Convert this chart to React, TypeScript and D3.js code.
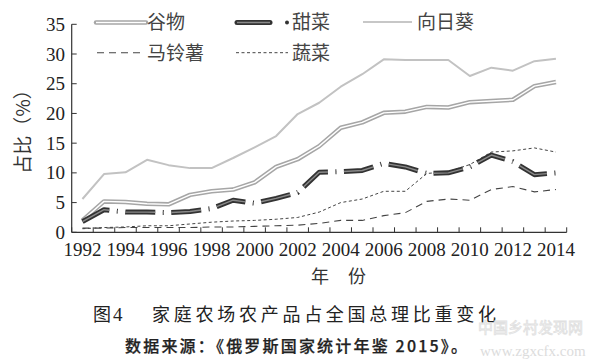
import React from "react";
import * as d3 from "d3";

const years = [1992, 1993, 1994, 1995, 1996, 1997, 1998, 1999, 2000, 2001, 2002, 2003, 2004, 2005, 2006, 2007, 2008, 2009, 2010, 2011, 2012, 2013, 2014];
const grain = [2.0, 5.2, 5.1, 4.8, 4.7, 6.3, 6.9, 7.2, 8.4, 11.0, 12.3, 14.5, 17.6, 18.5, 20.1, 20.3, 21.1, 21.0, 21.9, 22.1, 22.3, 24.6, 25.3];
const sunflower = [5.6, 9.8, 10.1, 12.2, 11.3, 10.8, 10.8, 12.5, 14.3, 16.2, 19.9, 21.8, 24.5, 26.6, 29.1, 29.0, 29.0, 29.0, 26.3, 27.7, 27.2, 28.8, 29.2];
const beet = [1.8, 3.8, 3.4, 3.4, 3.3, 3.5, 4.0, 5.4, 4.9, 5.7, 6.7, 10.1, 10.2, 10.4, 11.6, 11.0, 9.9, 10.0, 11.0, 13.0, 11.9, 9.7, 10.0];
const potato = [0.7, 0.7, 0.8, 0.8, 0.8, 0.8, 0.9, 0.9, 1.0, 1.1, 1.2, 1.5, 2.0, 2.0, 2.8, 3.3, 5.2, 5.6, 5.4, 7.2, 7.7, 6.8, 7.2];
const vegetables = [0.6, 0.8, 0.9, 1.1, 1.1, 1.4, 1.7, 1.9, 2.0, 2.2, 2.5, 3.4, 5.0, 5.6, 6.9, 6.9, 9.9, 10.2, 11.4, 13.5, 13.7, 14.2, 13.5];
const yTicks = [0, 5, 10, 15, 20, 25, 30, 35];
const xLabelYears = [1992, 1994, 1996, 1998, 2000, 2002, 2004, 2006, 2008, 2010, 2012, 2014];

const serif = "Liberation Serif, DejaVu Serif, Times New Roman, serif";
const cjk = "Noto Sans CJK SC, Noto Sans, sans-serif";

export default function App() {
  const W = 591, H = 363;
  const x0 = 71.7, x1 = 566.7, yTop = 24.3, yBot = 232.3;
  const x = d3.scaleBand<number>().domain(years).range([x0, x1]).paddingInner(0).paddingOuter(0);
  const y = d3.scaleLinear().domain([0, 35]).range([yBot, yTop]);
  const cx = (yr: number) => (x(yr) as number) + x.bandwidth() / 2;
  const line = (vals: number[]) =>
    d3.line<number>().x((_, i) => cx(years[i])).y((v) => y(v)).curve(d3.curveLinear)(vals) as string;

  const boundaries = years.map((yr) => x(yr) as number).concat([x1]);

  const beetDash = "30 7.5 1 7.5";

  return (
    <svg width={W} height={H} style={{ position: "absolute", left: 0, top: 0, background: "#fff" }}>
      {/* axes */}
      <line x1={x0} y1={yTop} x2={x0} y2={yBot} stroke="#333" strokeWidth={1.2} />
      <line x1={x0} y1={yBot} x2={x1} y2={yBot} stroke="#333" strokeWidth={1.2} />
      {yTicks.map((t) => (
        <g key={"yt" + t}>
          <line x1={x0} x2={x0 + 5} y1={y(t)} y2={y(t)} stroke="#333" strokeWidth={1} />
          <text x={65} y={y(t) + 6.5} textAnchor="end" style={{ fontFamily: serif }} fontSize={19} fill="#222">
            {t}
          </text>
        </g>
      ))}
      {boundaries.map((b, i) => (
        <line key={"xt" + i} x1={b} x2={b} y1={yBot} y2={yBot - 5} stroke="#333" strokeWidth={1} />
      ))}
      {xLabelYears.map((yr) => (
        <text key={"xl" + yr} x={cx(yr)} y={256} textAnchor="middle" style={{ fontFamily: serif }} fontSize={19} fill="#222">
          {yr}
        </text>
      ))}

      {/* series */}
      <path d={line(vegetables)} fill="none" stroke="#444" strokeWidth={1} strokeDasharray="3 2.5" />
      <path d={line(potato)} fill="none" stroke="#444" strokeWidth={1.1} strokeDasharray="7 5" />
      <path d={line(sunflower)} fill="none" stroke="#c2c2c2" strokeWidth={2} strokeLinejoin="round" />
      <path d={line(grain)} fill="none" stroke="#a6a6a6" strokeWidth={4.5} strokeLinejoin="round" />
      <path d={line(grain)} fill="none" stroke="#fff" strokeWidth={1.4} strokeLinejoin="round" />
      <path d={line(beet)} fill="none" stroke="#333" strokeWidth={5} strokeDasharray={beetDash} strokeLinejoin="round" />
      <path d={line(beet)} fill="none" stroke="#8a8a8a" strokeWidth={1.4} strokeDasharray={beetDash} strokeLinejoin="round" />

      {/* legend */}
      <line x1={96} x2={146} y1={22.5} y2={22.5} stroke="#a6a6a6" strokeWidth={4.5} strokeLinecap="round" />
      <line x1={96} x2={146} y1={22.5} y2={22.5} stroke="#fff" strokeWidth={1.4} />
      <text x={147} y={29} style={{ fontFamily: cjk }} fontSize={19} fill="#444">谷物</text>

      <line x1={237} x2={270} y1={22.5} y2={22.5} stroke="#333" strokeWidth={5} strokeLinecap="round" />
      <line x1={237} x2={270} y1={22.5} y2={22.5} stroke="#8a8a8a" strokeWidth={1.4} />
      <circle cx={287} cy={22.5} r={2} fill="#333" />
      <text x={292} y={29} style={{ fontFamily: cjk }} fontSize={19} fill="#444">甜菜</text>

      <line x1={363} x2={412} y1={22} y2={22} stroke="#b5b5b5" strokeWidth={1.5} />
      <text x={417} y={29} style={{ fontFamily: cjk }} fontSize={19} fill="#444">向日葵</text>

      <line x1={97} x2={143} y1={52.7} y2={52.7} stroke="#444" strokeWidth={1.1} strokeDasharray="7 5" />
      <text x={147} y={59.5} style={{ fontFamily: cjk }} fontSize={19} fill="#444">马铃薯</text>

      <line x1={236} x2={288} y1={52.7} y2={52.7} stroke="#444" strokeWidth={1} strokeDasharray="3 2.5" />
      <text x={292} y={59.5} style={{ fontFamily: cjk }} fontSize={19} fill="#444">蔬菜</text>

      {/* axis titles */}
      <text
        transform={`translate(30, 127) rotate(-90)`}
        textAnchor="middle"
        style={{ fontFamily: cjk }}
        fontSize={19}
        fill="#333"
      >
        占比（%）
      </text>
      <text x={320} y={283} textAnchor="middle" style={{ fontFamily: cjk }} fontSize={18} fill="#333">年</text>
      <text x={357} y={283} textAnchor="middle" style={{ fontFamily: cjk }} fontSize={18} fill="#333">份</text>

      {/* caption */}
      <text x={93} y={321} style={{ fontFamily: cjk }} fontSize={18} fill="#222">图</text>
      <text x={113} y={321} style={{ fontFamily: serif }} fontSize={19} fill="#222">4</text>
      <text x={152} y={321} style={{ fontFamily: cjk }} fontSize={18} fill="#222" textLength={344} lengthAdjust="spacing">
        家庭农场农产品占全国总理比重变化
      </text>
      <text x={125} y={352} style={{ fontFamily: cjk }} fontSize={16} fontWeight={500} stroke="#222" strokeWidth={0.25} fill="#222" textLength={342} lengthAdjust="spacing">
        数据来源：《俄罗斯国家统计年鉴 2015》。
      </text>

      {/* watermark */}
      <text x={478} y={333} style={{ fontFamily: cjk }} fontSize={15} fill="none" stroke="#e0e0e0" strokeWidth={0.8}>中国乡村发现网</text>
      <text x={480} y={356} style={{ fontFamily: serif }} fontSize={15} fill="#dcdcdc">www.zgxcfx.com</text>
    </svg>
  );
}
